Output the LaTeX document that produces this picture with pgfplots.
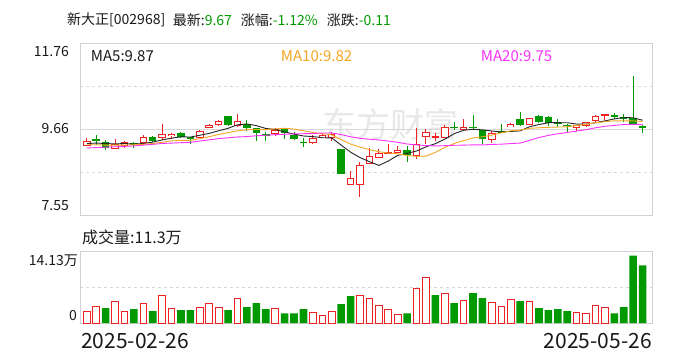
\documentclass[border=0pt]{standalone}
\usepackage{fontspec}
\setmainfont{Noto Sans CJK SC}
\usepackage{pgfplots}
\pgfplotsset{compat=1.18}
\usepackage{pgfplotstable}
\definecolor{cred}{RGB}{238,34,34}
\definecolor{cgreen}{RGB}{0,153,0}
\definecolor{cma10}{RGB}{245,166,35}
\definecolor{cma20}{RGB}{250,50,250}
\definecolor{cframe}{RGB}{208,208,214}
\definecolor{cgrid}{RGB}{216,216,216}
\definecolor{ctext}{RGB}{25,25,25}

% up candles (red, hollow): index open high low close
\pgfplotstableread{
i o h l c
0 9.25 9.43 9.25 9.35
3 9.18 9.41 9.18 9.27
4 9.24 9.36 9.20 9.32
6 9.32 9.52 9.31 9.45
8 9.44 9.77 9.38 9.52
9 9.49 9.56 9.41 9.53
12 9.45 9.64 9.43 9.59
13 9.70 9.77 9.68 9.75
14 9.76 9.88 9.73 9.85
16 9.74 10.02 9.70 9.85
20 9.55 9.67 9.48 9.63
24 9.32 9.51 9.30 9.43
25 9.44 9.53 9.43 9.49
26 9.44 9.57 9.37 9.52
28 8.30 8.63 8.30 8.45
29 8.30 8.85 7.98 8.77
30 8.81 9.18 8.81 8.99
31 8.96 9.16 8.96 9.06
32 9.07 9.30 9.07 9.08
33 9.08 9.24 9.08 9.14
35 9.00 9.69 8.91 9.28
36 9.47 9.65 9.30 9.57
37 9.46 9.55 9.37 9.47
38 9.45 9.76 9.45 9.69
40 9.64 9.90 9.64 9.70
43 9.40 9.60 9.32 9.55
45 9.71 9.79 9.71 9.77
47 9.77 9.92 9.77 9.91
52 9.70 9.76 9.60 9.75
53 9.73 9.83 9.70 9.81
54 9.86 10.00 9.81 9.97
55 9.98 10.00 9.87 10.00
}\upc

% down candles (green, filled)
\pgfplotstableread{
i o h l c
1 9.41 9.50 9.26 9.38
2 9.33 9.38 9.13 9.20
5 9.32 9.33 9.18 9.28
7 9.46 9.49 9.33 9.37
10 9.55 9.59 9.44 9.45
11 9.45 9.47 9.28 9.42
15 9.97 9.98 9.74 9.75
17 9.77 9.87 9.60 9.69
18 9.67 9.69 9.37 9.55
19 9.51 9.57 9.37 9.50
21 9.65 9.67 9.42 9.55
22 9.52 9.57 9.38 9.42
23 9.33 9.43 9.21 9.32
27 9.16 9.16 8.55 8.55
34 9.14 9.24 8.85 9.02
39 9.70 9.82 9.64 9.69
41 9.70 9.99 9.64 9.69
42 9.63 9.64 9.30 9.40
44 9.59 9.77 9.57 9.57
46 9.89 10.07 9.73 9.75
48 9.97 10.00 9.80 9.82
49 9.95 9.97 9.74 9.80
50 9.81 9.90 9.71 9.77
51 9.75 9.77 9.59 9.74
56 9.99 10.05 9.91 9.98
57 9.93 10.02 9.83 9.92
58 9.92 10.95 9.75 9.78
59 9.72 9.75 9.55 9.67
}\dnc

% moving averages: index ma5 ma10 ma20
\pgfplotstableread{
i m5 m10 m20
0 9.30 9.27 9.19
1 9.31 9.27 9.20
2 9.30 9.26 9.21
3 9.29 9.26 9.22
4 9.300 9.26 9.23
5 9.286 9.27 9.24
6 9.300 9.28 9.26
7 9.334 9.30 9.28
8 9.388 9.33 9.30
9 9.430 9.365 9.31
10 9.464 9.375 9.32
11 9.458 9.379 9.33
12 9.502 9.418 9.36
13 9.548 9.468 9.39
14 9.612 9.521 9.42
15 9.672 9.568 9.44
16 9.758 9.608 9.46
17 9.778 9.640 9.47
18 9.738 9.643 9.49
19 9.668 9.640 9.503
20 9.644 9.658 9.517
21 9.584 9.671 9.525
22 9.530 9.654 9.536
23 9.484 9.611 9.540
24 9.470 9.569 9.545
25 9.442 9.543 9.556
26 9.436 9.510 9.559
27 9.262 9.396 9.518
28 9.088 9.286 9.465
29 8.956 9.213 9.427
30 8.856 9.149 9.404
31 8.764 9.100 9.386
32 8.870 9.066 9.360
33 9.008 9.048 9.330
34 9.058 9.007 9.288
35 9.116 8.986 9.265
36 9.218 8.991 9.251
37 9.296 9.083 9.240
38 9.406 9.207 9.247
39 9.540 9.299 9.256
40 9.624 9.370 9.260
41 9.648 9.433 9.267
42 9.634 9.465 9.266
43 9.606 9.506 9.277
44 9.582 9.561 9.284
45 9.596 9.610 9.298
46 9.608 9.628 9.310
47 9.710 9.672 9.378
48 9.764 9.685 9.446
49 9.810 9.696 9.498
50 9.810 9.703 9.537
51 9.808 9.708 9.571
52 9.776 9.743 9.604
53 9.774 9.769 9.638
54 9.808 9.809 9.685
55 9.854 9.832 9.721
56 9.902 9.855 9.742
57 9.936 9.856 9.764
58 9.930 9.852 9.769
59 9.870 9.839 9.768
}\ma

% volume (10k shares), close above previous close
\pgfplotstableread{
i v
0 2.24
1 3.24
3 4.23
4 2.24
6 3.83
8 5.41
9 2.84
12 3.04
13 3.83
14 3.04
16 4.82
20 2.84
24 2.05
25 1.45
26 2.24
29 5.41
30 4.82
31 3.43
32 2.64
33 1.65
35 6.80
36 8.98
38 5.81
40 4.42
43 4.03
44 3.24
45 4.62
47 4.23
52 2.05
53 1.85
54 3.43
55 3.04
}\volup

% volume, close below previous close
\pgfplotstableread{
i v
2 2.91
5 2.71
7 2.31
10 2.51
11 2.51
15 2.51
17 3.10
18 3.90
19 2.71
21 1.91
22 1.91
23 2.71
27 3.70
28 5.28
34 1.91
37 5.48
39 3.90
41 5.88
42 4.89
46 4.29
48 2.91
49 2.51
50 2.71
51 2.31
56 1.91
57 3.10
58 13.21
59 11.30
}\voldn

\begin{document}
\begin{tikzpicture}
\fill[white] (0pt,0pt) rectangle (688pt,360pt);
\path[use as bounding box] (0pt,0pt) rectangle (688pt,360pt);

% watermark
\node[text=black!9, font=\fontsize{34}{36}\selectfont, inner sep=0pt, anchor=center] at (390pt,236pt) {东方财富};

% title
\begin{scope}[every node/.style={anchor=west, inner sep=0pt, text=ctext, font=\fontsize{14}{16}\selectfont}]
\node at (67pt,340pt) {新大正[002968]};
\node at (172.7pt,340pt) {最新:\textcolor{cgreen}{9.67}};
\node at (240.7pt,340pt) {涨幅:\textcolor{cgreen}{-1.12\%}};
\node at (326.7pt,340pt) {涨跌:\textcolor{cgreen}{-0.11}};
\end{scope}

\begin{axis}[
  at={(80pt,145pt)}, anchor=south west, scale only axis,
  width=572pt, height=172pt,
  xmin=-0.72, xmax=60.0, ymin=7.55, ymax=11.76,
  axis line style={draw=cframe, line width=0.8pt},
  xtick=\empty,
  ytick={8.6025,10.7075}, yticklabels={},
  ymajorgrids,
  major grid style={draw=cgrid, dash pattern=on 3pt off 3pt, line width=0.7pt},
  extra y ticks={9.655}, extra y tick labels={},
  extra y tick style={grid=major, major grid style={draw=cgrid, solid, line width=0.8pt}},
  tick style={draw=none},
]
% wicks
\addplot[draw=none, mark=none, forget plot,
  error bars/.cd, y dir=both, y explicit, error mark=none,
  error bar style={line width=1pt, draw=cred, solid}]
  table[x=i, y expr=(\thisrow{h}+\thisrow{l})/2, y error expr=(\thisrow{h}-\thisrow{l})/2] {\upc};
\addplot[draw=none, mark=none, forget plot,
  error bars/.cd, y dir=both, y explicit, error mark=none,
  error bar style={line width=1pt, draw=cgreen, solid}]
  table[x=i, y expr=(\thisrow{h}+\thisrow{l})/2, y error expr=(\thisrow{h}-\thisrow{l})/2] {\dnc};
% green bodies
\addplot[draw=none, mark=none, forget plot,
  error bars/.cd, y dir=both, y explicit, error mark=none,
  error bar style={line width=7.5pt, draw=cgreen, solid}]
  table[x=i, y expr=(\thisrow{o}+\thisrow{c})/2, y error expr={max(abs(\thisrow{o}-\thisrow{c})/2,0.02)}] {\dnc};
% red hollow bodies
\addplot[draw=none, mark=none, forget plot,
  error bars/.cd, y dir=both, y explicit, error mark=none,
  error bar style={line width=7.5pt, draw=cred, solid}]
  table[x=i, y expr=(\thisrow{o}+\thisrow{c})/2, y error expr={abs(\thisrow{o}-\thisrow{c})/2+0.013}] {\upc};
\addplot[draw=none, mark=none, forget plot,
  error bars/.cd, y dir=both, y explicit, error mark=none,
  error bar style={line width=5.5pt, draw=white, solid}]
  table[x=i, y expr=(\thisrow{o}+\thisrow{c})/2, y error expr={max(abs(\thisrow{o}-\thisrow{c})/2-0.013,0)}] {\upc};
% moving averages
\addplot[sharp plot, mark=none, line width=0.9pt, draw=black!85] table[x=i, y=m5] {\ma};
\addplot[sharp plot, mark=none, line width=0.9pt, draw=cma10] table[x=i, y=m10] {\ma};
\addplot[sharp plot, mark=none, line width=0.9pt, draw=cma20] table[x=i, y=m20] {\ma};
\end{axis}

\begin{axis}[
  at={(80pt,37pt)}, anchor=south west, scale only axis,
  width=572pt, height=72pt,
  xmin=-0.72, xmax=60.0, ymin=0, ymax=14.13,
  axis line style={draw=cframe, line width=0.8pt},
  xtick=\empty,
  ytick={7.065}, yticklabels={},
  ymajorgrids,
  major grid style={draw=cgrid, dash pattern=on 3pt off 3pt, line width=0.7pt},
  tick style={draw=none},
]
\addplot[ybar, bar width=6.6pt, bar shift=0pt, draw=cred, fill=white, line width=0.9pt] table[x=i, y=v] {\volup};
\addplot[ybar, bar width=7.6pt, bar shift=0pt, draw=none, fill=cgreen] table[x=i, y=v] {\voldn};
\end{axis}

% labels
\begin{scope}[every node/.style={inner sep=0pt, text=ctext, font=\fontsize{14}{16}\selectfont}]
\node[anchor=east] at (69pt,308pt) {11.76};
\node[anchor=east] at (69pt,231pt) {9.66};
\node[anchor=east] at (69pt,154pt) {7.55};
\node[anchor=east] at (78pt,99.3pt) {14.13万};
\node[anchor=east] at (77pt,44pt) {0};
\end{scope}
\node[anchor=west, inner sep=0pt, text=ctext, font=\fontsize{15}{17}\selectfont] at (90.7pt,304pt) {MA5:9.87};
\node[anchor=west, inner sep=0pt, text=cma10, font=\fontsize{15}{17}\selectfont] at (280.7pt,304pt) {MA10:9.82};
\node[anchor=west, inner sep=0pt, text=cma20, font=\fontsize{15}{17}\selectfont] at (480.7pt,304pt) {MA20:9.75};
\node[anchor=west, inner sep=0pt, text=ctext, font=\fontsize{16}{18}\selectfont] at (82pt,123pt) {成交量:11.3万};
\node[anchor=west, inner sep=0pt, text=ctext, font=\fontsize{21}{23}\selectfont] at (81pt,19.2pt) {2025-02-26};
\node[anchor=east, inner sep=0pt, text=ctext, font=\fontsize{21}{23}\selectfont] at (652pt,19.2pt) {2025-05-26};
\end{tikzpicture}
\end{document}
